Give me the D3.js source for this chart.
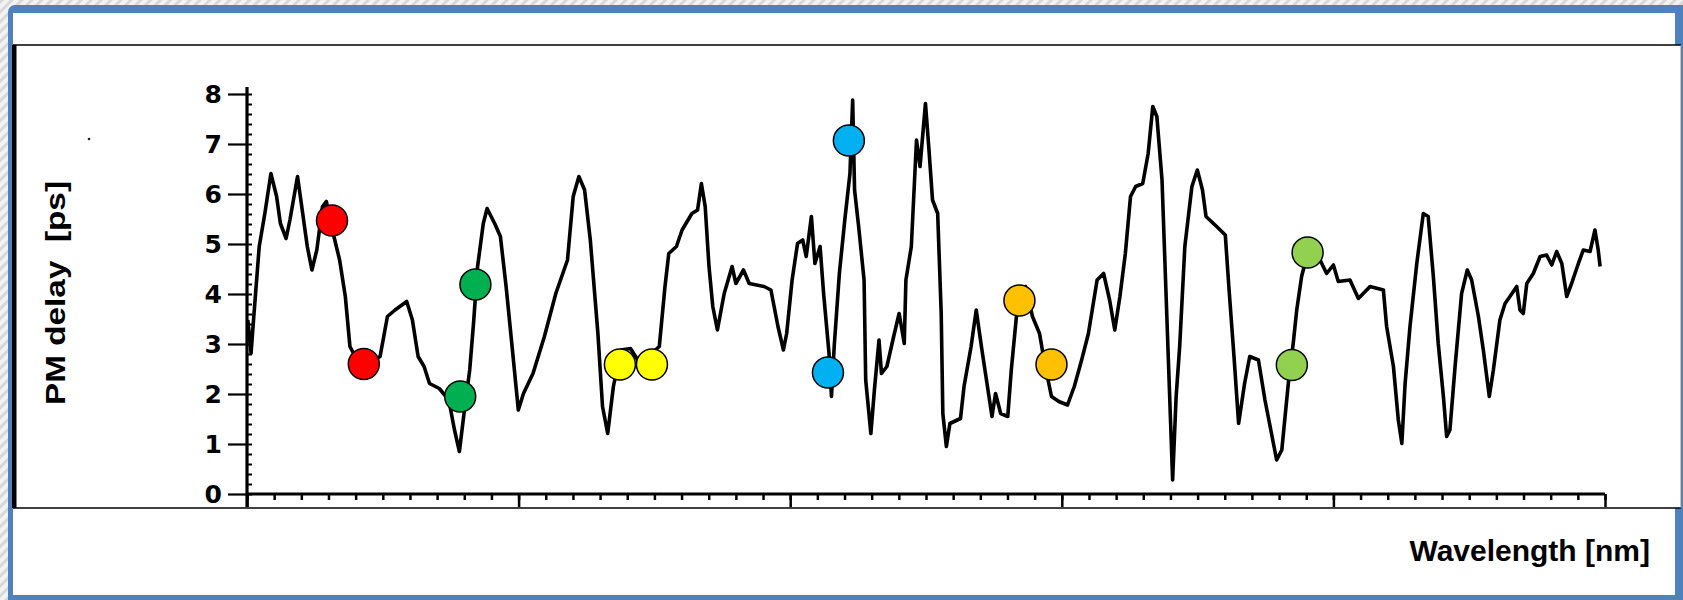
<!DOCTYPE html>
<html>
<head>
<meta charset="utf-8">
<script src="https://cdn.jsdelivr.net/npm/d3@7"></script>
<style>
  body { margin: 0; overflow: hidden; background: #fff; }
</style>
</head>
<body>
<div id="chart"></div>
<script>
'use strict';

// PM delay trace (wavelength in nm, delay in ps)
const wavelengths = [
  1530.03, 1530.15, 1530.24, 1530.45, 1530.66, 1530.88, 1531.09, 1531.23, 1531.44, 1531.58,
  1531.86, 1532.00, 1532.22, 1532.39, 1532.57, 1532.78, 1532.92, 1533.20, 1533.41, 1533.62,
  1533.79, 1534.05, 1534.33, 1534.90, 1535.17, 1535.45, 1535.88, 1536.09, 1536.30, 1536.52,
  1536.72, 1537.08, 1537.43, 1537.64, 1537.82, 1537.99, 1538.20, 1538.34, 1538.49, 1538.70,
  1538.84, 1539.12, 1539.33, 1539.54, 1539.76, 1539.99, 1540.18, 1540.53, 1540.95, 1541.37,
  1541.80, 1542.01, 1542.22, 1542.43, 1542.64, 1542.92, 1543.09, 1543.28, 1543.49, 1543.77,
  1544.12, 1544.47, 1545.18, 1545.39, 1545.53, 1545.81, 1546.02, 1546.38, 1546.59, 1546.73,
  1546.87, 1547.01, 1547.15, 1547.32, 1547.57, 1547.86, 1548.00, 1548.28, 1548.49, 1549.04,
  1549.29, 1549.55, 1549.75, 1549.87, 1550.07, 1550.27, 1550.46, 1550.59, 1550.78, 1550.91,
  1551.10, 1551.23, 1551.43, 1551.52, 1551.62, 1551.81, 1552.01, 1552.20, 1552.30, 1552.37,
  1552.52, 1552.72, 1552.78, 1552.97, 1553.10, 1553.27, 1553.36, 1553.56, 1553.81, 1554.01,
  1554.20, 1554.26, 1554.46, 1554.65, 1554.78, 1554.98, 1555.11, 1555.24, 1555.43, 1555.56,
  1555.62, 1555.75, 1555.88, 1556.27, 1556.40, 1556.66, 1556.85, 1557.04, 1557.43, 1557.56,
  1557.75, 1558.01, 1558.14, 1558.34, 1558.44, 1558.66, 1558.92, 1559.18, 1559.37, 1559.62,
  1559.89, 1560.21, 1560.46, 1560.73, 1560.98, 1561.30, 1561.54, 1561.76, 1561.95, 1562.14,
  1562.34, 1562.53, 1562.72, 1562.98, 1563.18, 1563.35, 1563.50, 1563.69, 1563.82, 1563.95,
  1564.08, 1564.21, 1564.34, 1564.53, 1564.79, 1564.99, 1565.18, 1565.31, 1565.70, 1566.02,
  1566.15, 1566.34, 1566.51, 1566.73, 1566.92, 1567.24, 1567.48, 1567.91, 1568.10, 1568.34,
  1568.52, 1568.65, 1568.83, 1569.02, 1569.51, 1569.75, 1570.00, 1570.18, 1570.61, 1570.92,
  1571.35, 1571.84, 1571.96, 1572.21, 1572.39, 1572.52, 1572.64, 1572.82, 1573.07, 1573.31,
  1573.49, 1573.68, 1573.86, 1574.05, 1574.17, 1574.29, 1574.48, 1574.72, 1574.93, 1575.09,
  1575.34, 1575.52, 1575.74, 1575.89, 1576.13, 1576.32, 1576.50, 1576.75, 1576.87, 1576.99,
  1577.12, 1577.36, 1577.61, 1577.85, 1578.04, 1578.22, 1578.41, 1578.59, 1578.77, 1579.02,
  1579.20, 1579.45, 1579.63, 1579.75, 1579.82
];

const delays = [
  3.48, 2.82, 3.48, 4.95, 5.62, 6.41, 5.95, 5.41, 5.11, 5.48,
  6.35, 5.81, 4.95, 4.48, 4.88, 5.75, 5.85, 5.15, 4.68, 3.95,
  2.95, 2.68, 2.55, 2.75, 3.55, 3.68, 3.85, 3.48, 2.75, 2.55,
  2.21, 2.11, 1.88, 1.28, 0.85, 1.61, 2.48, 3.41, 4.55, 5.41,
  5.71, 5.41, 5.15, 4.15, 2.95, 1.68, 2.01, 2.41, 3.15, 4.01,
  4.68, 5.95, 6.35, 6.08, 5.08, 3.21, 1.75, 1.21, 2.15, 2.88,
  2.91, 2.61, 2.95, 4.15, 4.81, 4.95, 5.28, 5.61, 5.68, 6.21,
  5.75, 4.55, 3.75, 3.28, 4.01, 4.55, 4.21, 4.48, 4.21, 4.15,
  4.08, 3.35, 2.88, 3.21, 4.28, 5.01, 5.08, 4.75, 5.55, 4.61,
  4.95, 4.01, 2.81, 1.95, 2.95, 4.41, 5.48, 6.41, 7.88, 6.08,
  5.35, 4.28, 2.28, 1.21, 2.08, 3.08, 2.41, 2.55, 3.15, 3.61,
  3.01, 4.28, 4.95, 7.08, 6.55, 7.81, 6.88, 5.88, 5.61, 3.61,
  1.61, 0.95, 1.41, 1.51, 2.15, 2.95, 3.68, 2.95, 1.55, 2.01,
  1.61, 1.55, 2.48, 3.61, 3.88, 4.15, 3.55, 3.21, 2.61, 1.95,
  1.85, 1.78, 2.15, 2.68, 3.21, 4.28, 4.41, 3.88, 3.28, 3.95,
  4.81, 5.95, 6.15, 6.21, 6.81, 7.75, 7.55, 6.28, 4.28, 2.28,
  0.28, 1.95, 2.95, 4.95, 6.15, 6.48, 6.08, 5.55, 5.35, 5.18,
  4.15, 2.75, 1.41, 2.21, 2.75, 2.68, 1.88, 0.68, 0.88, 2.21,
  3.01, 3.68, 4.35, 4.75, 4.68, 4.41, 4.58, 4.25, 4.28, 3.91,
  4.15, 4.08, 3.35, 2.55, 1.48, 1.01, 2.21, 3.35, 4.61, 5.61,
  5.55, 4.35, 3.01, 1.95, 1.15, 1.28, 2.55, 4.01, 4.48, 4.28,
  3.55, 2.88, 1.95, 2.48, 3.48, 3.81, 3.95, 4.15, 3.68, 3.61,
  4.21, 4.41, 4.75, 4.78, 4.58, 4.85, 4.61, 3.95, 4.21, 4.61,
  4.88, 4.85, 5.28, 4.88, 4.55
];

// coloured markers placed on the trace, in pairs
const markerWavelengths = [1533.13, 1534.30, 1538.41, 1537.85, 1543.73, 1544.91,
  1552.16, 1551.39, 1558.44, 1559.62, 1569.05, 1568.47];
const markerDelays = [5.47, 2.60, 4.19, 1.95, 2.59, 2.59,
  7.07, 2.43, 3.87, 2.59, 4.83, 2.58];
const markerColors = ['#ff0000', '#ff0000', '#00b050', '#00b050', '#ffff00', '#ffff00',
  '#00b0f0', '#00b0f0', '#ffc000', '#ffc000', '#92d050', '#92d050'];

const yTicks = [0, 1, 2, 3, 4, 5, 6, 7, 8];
const xMajorTicks = [1530, 1540, 1550, 1560, 1570, 1580];

const width = 1683;
const height = 600;

const svg = d3.select('#chart')
  .append('svg')
  .attr('width', width)
  .attr('height', height);

//
// SLIDE FRAME
//

const defs = svg.append('defs');
const hatch = defs.append('pattern')
  .attr('id', 'hatch')
  .attr('patternUnits', 'userSpaceOnUse')
  .attr('width', 7)
  .attr('height', 7)
  .attr('patternTransform', 'rotate(45)');
hatch.append('rect')
  .attr('width', 7)
  .attr('height', 7)
  .attr('fill', '#f3f3f3');
hatch.append('rect')
  .attr('width', 3)
  .attr('height', 7)
  .attr('fill', '#d8d8d8');

svg.append('rect')
  .attr('width', width)
  .attr('height', height)
  .attr('fill', 'url(#hatch)');

// blue rounded border, runs off the bottom and right of the window
svg.append('rect')
  .attr('x', 8)
  .attr('y', 5)
  .attr('width', 1700)
  .attr('height', 620)
  .attr('rx', 7)
  .attr('fill', '#4f81bd');
svg.append('rect')
  .attr('x', 13)
  .attr('y', 13)
  .attr('width', 1662)
  .attr('height', 582)
  .attr('fill', '#fff');

// the pasted scan of the plot
const scan = svg.append('g');
scan.append('rect')
  .attr('x', 13)
  .attr('y', 45)
  .attr('width', 1668)
  .attr('height', 463)
  .attr('fill', '#fff');
scan.append('line')
  .attr('x1', 13).attr('x2', 1681)
  .attr('y1', 45).attr('y2', 45)
  .attr('stroke', '#000')
  .attr('stroke-width', 1.6);
scan.append('line')
  .attr('x1', 13).attr('x2', 1681)
  .attr('y1', 508).attr('y2', 508)
  .attr('stroke', '#000')
  .attr('stroke-width', 1.6);
scan.append('line')
  .attr('x1', 1681).attr('x2', 1681)
  .attr('y1', 45).attr('y2', 508)
  .attr('stroke', '#888')
  .attr('stroke-width', 1);
scan.append('rect')
  .attr('x', 12)
  .attr('y', 45)
  .attr('width', 4.5)
  .attr('height', 463)
  .attr('fill', '#000');
// a speck of dust on the scan
scan.append('circle')
  .attr('cx', 89)
  .attr('cy', 139)
  .attr('r', 1.3)
  .attr('fill', '#222');

//
// SCALES AND AXES
//

const x = d3.scaleLinear()
  .domain([1530, 1580])
  .range([247, 1605]);

const y = d3.scaleLinear()
  .domain([0, 8])
  .range([494, 94]);

// y axis: labelled integer ticks on the left, 0.2 ps minor ticks inside
const yAxis = scan.append('g')
  .attr('transform', 'translate(' + x(1530) + ',0)')
  .call(d3.axisLeft(y)
    .tickValues(yTicks)
    .tickSize(19)
    .tickSizeOuter(0)
    .tickPadding(6)
    .tickFormat(d3.format('d')));
yAxis.select('.domain').remove();
yAxis.selectAll('.tick line')
  .attr('stroke', '#000')
  .attr('stroke-width', 2.2);
yAxis.selectAll('.tick text')
  .attr('font-family', '"DejaVu Sans", sans-serif')
  .attr('font-weight', 'bold')
  .attr('font-size', 25)
  .attr('fill', '#000');

scan.append('g')
  .attr('transform', 'translate(' + x(1530) + ',0)')
  .call(d3.axisRight(y)
    .ticks(40)
    .tickSize(5)
    .tickSizeOuter(0)
    .tickFormat(''))
  .call(g => g.select('.domain').remove())
  .selectAll('.tick line')
  .attr('stroke', '#000')
  .attr('stroke-width', 2);

scan.append('line')
  .attr('x1', x(1530)).attr('x2', x(1530))
  .attr('y1', y(8) - 7).attr('y2', y(0) + 13)
  .attr('stroke', '#000')
  .attr('stroke-width', 3.2);

// x axis: unlabelled, major ticks every 10 nm and minor every 1 nm
scan.append('g')
  .attr('transform', 'translate(0,' + y(0) + ')')
  .call(d3.axisBottom(x)
    .tickValues(xMajorTicks)
    .tickSize(13)
    .tickSizeOuter(0)
    .tickFormat(''))
  .call(g => g.select('.domain').remove())
  .selectAll('.tick line')
  .attr('stroke', '#000')
  .attr('stroke-width', 2.5);

scan.append('g')
  .attr('transform', 'translate(0,' + y(0) + ')')
  .call(d3.axisBottom(x)
    .ticks(50)
    .tickSize(6)
    .tickSizeOuter(0)
    .tickFormat(''))
  .call(g => g.select('.domain').remove())
  .selectAll('.tick line')
  .attr('stroke', '#000')
  .attr('stroke-width', 2.5);

scan.append('line')
  .attr('x1', x(1530)).attr('x2', x(1580))
  .attr('y1', y(0)).attr('y2', y(0))
  .attr('stroke', '#000')
  .attr('stroke-width', 3.2);

// rotated y label, stretched like the scanned lettering
scan.append('text')
  .attr('transform', 'translate(65,293) rotate(-90)')
  .attr('text-anchor', 'middle')
  .attr('font-family', '"Liberation Sans", Arial, sans-serif')
  .attr('font-weight', 'bold')
  .attr('font-size', 27)
  .attr('textLength', 224)
  .attr('lengthAdjust', 'spacingAndGlyphs')
  .attr('xml:space', 'preserve')
  .text('PM delay  [ps]');

//
// DATA
//

const points = d3.zip(wavelengths, delays);

const line = d3.line()
  .x(d => x(d[0]))
  .y(d => y(d[1]));

scan.append('path')
  .datum(points)
  .attr('d', line)
  .attr('fill', 'none')
  .attr('stroke', '#000')
  .attr('stroke-width', 3.6)
  .attr('stroke-linejoin', 'round');

svg.append('g')
  .selectAll('circle')
  .data(d3.range(markerWavelengths.length))
  .join('circle')
  .attr('cx', i => x(markerWavelengths[i]))
  .attr('cy', i => y(markerDelays[i]))
  .attr('r', 15.5)
  .attr('fill', i => markerColors[i])
  .attr('stroke', '#000')
  .attr('stroke-width', 1.5);

// x label sits in the slide below the scan
svg.append('text')
  .attr('x', 1650)
  .attr('y', 561)
  .attr('text-anchor', 'end')
  .attr('font-family', '"Liberation Sans", Arial, sans-serif')
  .attr('font-weight', 'bold')
  .attr('font-size', 30)
  .attr('fill', '#000')
  .text('Wavelength [nm]');
</script>
</body>
</html>
